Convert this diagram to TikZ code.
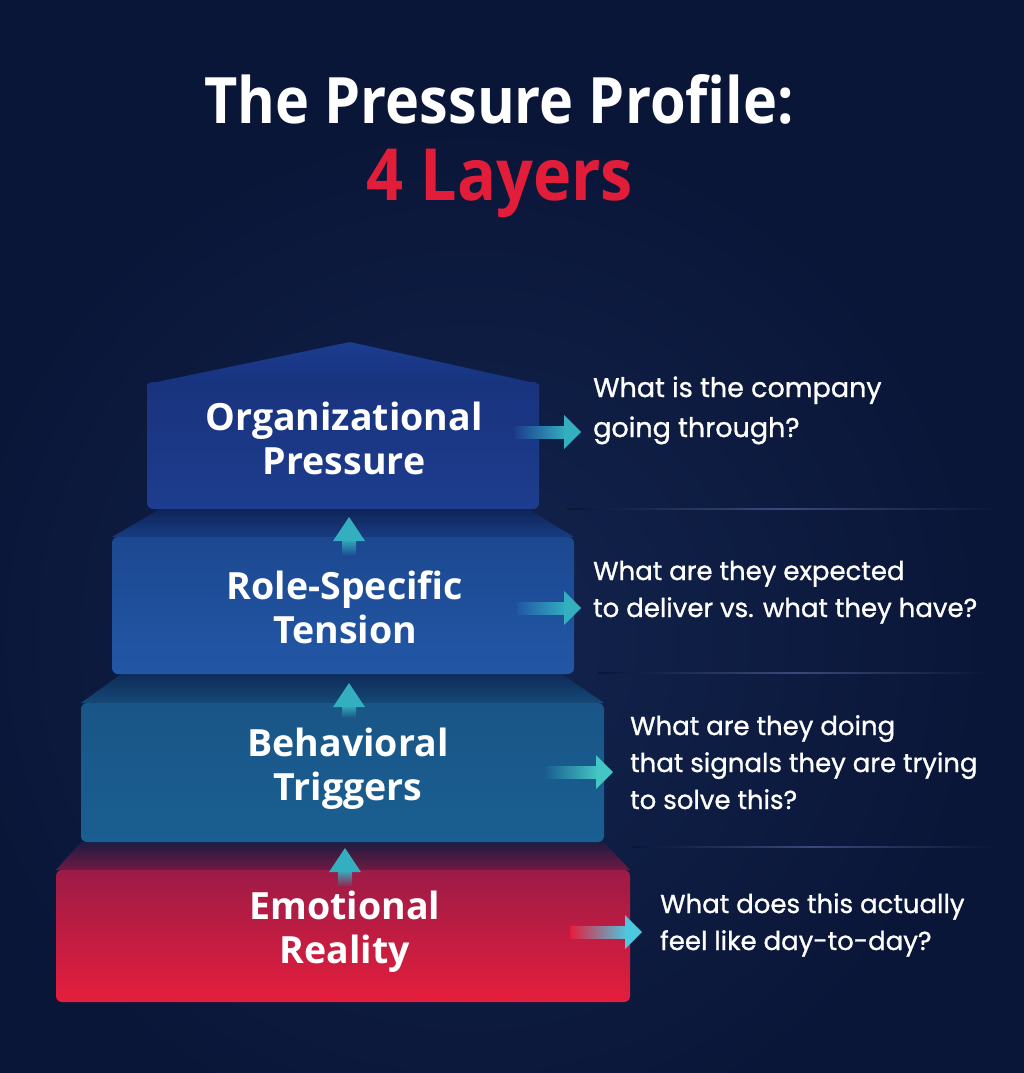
\documentclass[tikz,border=0pt]{standalone}
\usepackage{fontspec}
\setmainfont{Open Sans}
\newfontfamily\titlefont[FakeStretch=0.90]{Open Sans}
\newfontfamily\qfont[FakeBold=1.0]{Poppins}
\usetikzlibrary{calc}
\definecolor{bg}{HTML}{0A1638}
\definecolor{bglight}{HTML}{13244E}
\definecolor{tred}{HTML}{E11D3A}
\definecolor{cyanA}{HTML}{33AFC0}
\definecolor{cyanB}{HTML}{44C6C4}
\definecolor{cyanC}{HTML}{4CC8E0}
\definecolor{sepcol}{HTML}{3A4A78}
\definecolor{tA1}{HTML}{0F2458}\definecolor{tA2}{HTML}{173C82}
\definecolor{tB1}{HTML}{0E2B58}\definecolor{tB2}{HTML}{154876}
\definecolor{tC1}{HTML}{1E1C40}\definecolor{tC2}{HTML}{6E1A44}
\definecolor{roof1}{HTML}{1C3C8E}\definecolor{roof2}{HTML}{15307A}
\definecolor{org1}{HTML}{19337E}\definecolor{org2}{HTML}{1D3D8E}
\definecolor{role1}{HTML}{1C4890}\definecolor{role2}{HTML}{2257A6}
\definecolor{beh1}{HTML}{1A5587}\definecolor{beh2}{HTML}{1A5F91}
\definecolor{emo1}{HTML}{9C1B47}\definecolor{emo2}{HTML}{E51E3C}
\tikzset{
  layerbox/.style={rectangle, rounded corners=6pt, inner sep=0pt},
  boxlabel/.style={text=white, align=center, font=\bfseries\fontsize{37.5}{44}\selectfont},
  question/.style={text=white, align=left, anchor=base west, inner sep=0pt, font=\qfont\fontsize{26}{37}\selectfont},
  sepline/.style={left color=bg, right color=bg, middle color=sepcol},
}
% #1 start, #2 tip, #3 colour, #4 start colour
\newcommand\rarr[4]{%
  \shade[left color=#4, right color=#3] ($(#1)+(0,-6)$) rectangle ($(#2)+(-15,6)$);
  \fill[#3] ($(#2)+(-17,-17)$) -- (#2) -- ($(#2)+(-17,17)$) -- cycle;}
\newcommand\uarr[4]{%
  \shade[top color=#3, bottom color=#4] ($(#2)+(-7,22)$) rectangle ($(#1)+(7,0)$);
  \fill[#3] ($(#2)+(-16,24)$) -- (#2) -- ($(#2)+(16,24)$) -- cycle;}
\begin{document}
\begin{tikzpicture}[x=1pt,y=-1pt]
\useasboundingbox (0,0) rectangle (1024,1073);
\fill[bg] (0,0) rectangle (1024,1073);
\shade[inner color=bglight, outer color=bg] (470,640) circle[radius=520pt];
% title
\node[text=white, anchor=base, inner sep=0pt, font=\titlefont\bfseries\fontsize{64}{70}\selectfont] (title) at (499,123) {The Pressure Profile:};
\node[text=tred, anchor=base, inner sep=0pt, font=\titlefont\bfseries\fontsize{72}{80}\selectfont] (sub) at (500,200) {4 Layers};
% trapezoid top faces
\shade[top color=tA1, bottom color=tA2] (112,537) -- (160,509) -- (528,509) -- (574,537) -- cycle;
\shade[top color=tB1, bottom color=tB2] (81,703) -- (121,674) -- (562,674) -- (604,703) -- cycle;
\shade[top color=tC1, bottom color=tC2] (56,870) -- (81,842) -- (604,842) -- (630,870) -- cycle;
% roof
\shade[top color=roof1, bottom color=roof2] (147,384) -- (350,342) -- (539,384) -- (539,400) -- (147,400) -- cycle;
% boxes
\node[layerbox, minimum width=392pt, minimum height=127pt, top color=org1, bottom color=org2] (orgbox) at (343,445.5) {};
\node[layerbox, minimum width=462pt, minimum height=137pt, top color=role1, bottom color=role2] (rolebox) at (343,605.5) {};
\node[layerbox, minimum width=523pt, minimum height=139pt, top color=beh1, bottom color=beh2] (behbox) at (342.5,772.5) {};
\node[layerbox, minimum width=574pt, minimum height=132pt, top color=emo1, bottom color=emo2] (emobox) at (343,936) {};
% labels
\node[boxlabel] (orglabel) at (344,438) {Organizational\\Pressure};
\node[boxlabel] (rolelabel) at (345,607) {Role-Specific\\Tension};
\node[boxlabel] (behlabel) at (348,769) {Behavioral\\Triggers};
\node[boxlabel] (emolabel) at (345,932) {Emotional\\Reality};
% separators
\shade[sepline] (567,508.3) rectangle (997,509.7);
\shade[sepline] (598,672.3) rectangle (990,673.7);
\shade[sepline] (632,846.3) rectangle (995,847.7);
% questions (anchor = baseline of last line)
\node[question, font=\qfont\fontsize{27}{40}\selectfont] (q1) at (593,437) {What is the company\\going through?};
\node[question] (q2) at (593,617) {What are they expected\\to deliver vs. what they have?};
\node[question] (q3) at (630,809) {What are they doing\\that signals they are trying\\to solve this?};
\node[question] (q4) at (660,950) {What does this actually\\feel like day-to-day?};
% right arrows
\coordinate (a1s) at (515,432); \coordinate (a1e) at (581,432);
\coordinate (a2s) at (517,608); \coordinate (a2e) at (581,608);
\coordinate (a3s) at (546,772); \coordinate (a3e) at (613,772);
\coordinate (a4s) at (570,932); \coordinate (a4e) at (642,932);
\rarr{a1s}{a1e}{cyanA}{org2}
\rarr{a2s}{a2e}{cyanA}{role2}
\rarr{a3s}{a3e}{cyanB}{beh2}
\rarr{a4s}{a4e}{cyanC}{emo2}
% up arrows
\coordinate (u1t) at (349,517); \coordinate (u1b) at (349,556);
\coordinate (u2t) at (349,683); \coordinate (u2b) at (349,718);
\coordinate (u3t) at (345,848); \coordinate (u3b) at (345,887);
\uarr{u1b}{u1t}{cyanA}{role1}
\uarr{u2b}{u2t}{cyanA}{beh1}
\uarr{u3b}{u3t}{cyanA}{emo1}
\end{tikzpicture}
\end{document}
